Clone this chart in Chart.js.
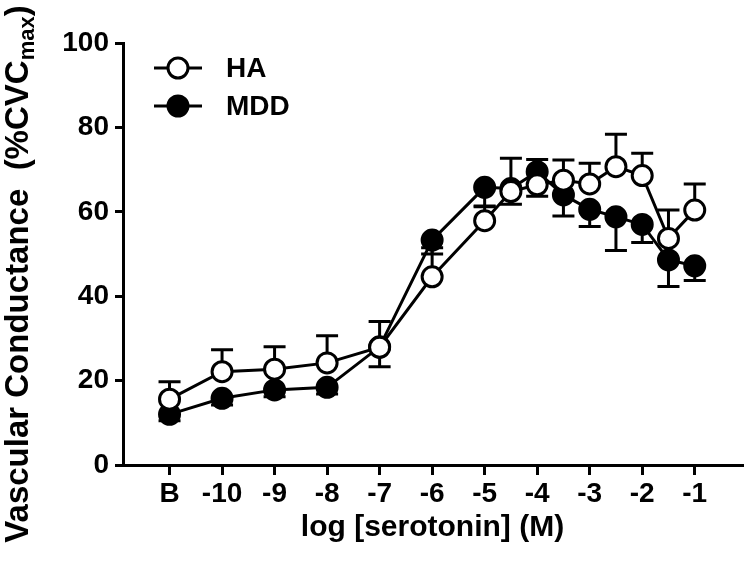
<!DOCTYPE html>
<html>
<head>
<meta charset="utf-8">
<script src="https://cdn.jsdelivr.net/npm/chart.js@4.4.0/dist/chart.umd.min.js"></script>
<style>
  html, body { margin: 0; padding: 0; background: #fff; }
  #wrap { width: 755px; height: 562px; position: relative; }
</style>
</head>
<body>
<div id="wrap"><canvas id="doseChart"></canvas></div>
<script>
// log concentration; -11 stands for the baseline "B"
const concentrations = [-11, -10, -9, -8, -7, -6, -5, -4.5, -4, -3.5, -3, -2.5, -2, -1.5, -1];

// HA (open circles) - mean and top of error bar
const haMean = [15.6, 22.1, 22.7, 24.2, 27.9, 44.6, 57.9, 64.8, 66.4, 67.5, 66.6, 70.7, 68.6, 53.7, 60.4];
const haErrTop = [19.7, 27.3, 28.0, 30.6, 34.0, 51.5, 61.2, 72.7, 72.4, 72.3, 71.5, 78.4, 73.9, 60.4, 66.6];

// MDD (filled circles) - mean and bottom of error bar
const mddMean = [12.0, 15.8, 17.8, 18.4, 28.0, 53.3, 65.8, 65.5, 69.5, 64.0, 60.6, 58.8, 57.0, 48.6, 47.2];
const mddErrBottom = [10.5, 14.2, 16.2, 16.8, 23.3, 50.0, 61.4, 61.8, 63.7, 59.0, 56.5, 50.8, 52.7, 42.3, 43.7];

const xTickValues = [-11, -10, -9, -8, -7, -6, -5, -4, -3, -2, -1];
const xTickLabels = ['B', '-10', '-9', '-8', '-7', '-6', '-5', '-4', '-3', '-2', '-1'];
const yTickValues = [0, 20, 40, 60, 80, 100];

const FONT = "'Liberation Sans', Arial, Helvetica, sans-serif";

function toPoints(ys) {
    return concentrations.map((x, i) => ({ x: x, y: ys[i] }));
}

// error bars: HA goes up, MDD goes down
const errorBars = {
    id: 'errorBars',
    beforeDatasetsDraw(chart) {
        const ctx = chart.ctx;
        const xs = chart.scales.x, ys = chart.scales.y;
        const cap = 11;
        ctx.save();
        ctx.strokeStyle = '#000';
        ctx.lineWidth = 3;
        const draw = (x, y0, y1) => {
            const px = xs.getPixelForValue(x);
            const p0 = ys.getPixelForValue(y0);
            const p1 = ys.getPixelForValue(y1);
            ctx.beginPath();
            ctx.moveTo(px, p0);
            ctx.lineTo(px, p1);
            ctx.moveTo(px - cap, p1);
            ctx.lineTo(px + cap, p1);
            ctx.stroke();
        };
        concentrations.forEach((c, i) => {
            draw(c, mddMean[i], mddErrBottom[i]);
            draw(c, haMean[i], haErrTop[i]);
        });
        ctx.restore();
    }
};

// legend with line through marker, and y title with subscript
const extras = {
    id: 'extras',
    afterDraw(chart) {
        const ctx = chart.ctx;
        ctx.save();
        // legend
        const rows = [
            { label: 'HA', y: 68, fill: '#fff' },
            { label: 'MDD', y: 106, fill: '#000' }
        ];
        rows.forEach(r => {
            ctx.strokeStyle = '#000';
            ctx.lineWidth = 3;
            ctx.beginPath();
            ctx.moveTo(154, r.y);
            ctx.lineTo(202, r.y);
            ctx.stroke();
            ctx.beginPath();
            ctx.arc(178, r.y, 10, 0, Math.PI * 2);
            ctx.fillStyle = r.fill;
            ctx.fill();
            ctx.stroke();
            ctx.fillStyle = '#000';
            ctx.font = 'bold 28px ' + FONT;
            ctx.textAlign = 'left';
            ctx.textBaseline = 'middle';
            ctx.fillText(r.label, 226, r.y + 1);
        });

        // y axis title
        const main = 'Vascular Conductance  (%CVC';
        const sub = 'max';
        const tail = ')';
        const bigFont = 'bold 33px ' + FONT;
        const smallFont = 'bold 22px ' + FONT;
        ctx.font = bigFont;
        const w1 = ctx.measureText(main).width;
        const w3 = ctx.measureText(tail).width;
        ctx.font = smallFont;
        const w2 = ctx.measureText(sub).width;
        const total = w1 + w2 + w3;
        ctx.translate(28, 274);
        ctx.rotate(-Math.PI / 2);
        ctx.textAlign = 'left';
        ctx.textBaseline = 'alphabetic';
        let x = -total / 2;
        ctx.font = bigFont;
        ctx.fillText(main, x, 0);
        x += w1;
        ctx.font = smallFont;
        ctx.fillText(sub, x, 6);
        x += w2;
        ctx.font = bigFont;
        ctx.fillText(tail, x, 0);
        ctx.restore();
    }
};

const chartData = {
    datasets: [
        {
            label: 'HA',
            data: toPoints(haMean),
            borderColor: '#000',
            backgroundColor: '#fff',
            borderWidth: 3,
            pointRadius: 10,
            pointBorderWidth: 3,
            pointBackgroundColor: '#fff',
            pointBorderColor: '#000',
            tension: 0
        },
        {
            label: 'MDD',
            data: toPoints(mddMean),
            borderColor: '#000',
            backgroundColor: '#000',
            borderWidth: 3,
            pointRadius: 10,
            pointBorderWidth: 3,
            pointBackgroundColor: '#000',
            pointBorderColor: '#000',
            tension: 0
        }
    ]
};

const config = {
    type: 'line',
    data: chartData,
    options: {
        responsive: true,
        maintainAspectRatio: false,
        animation: false,
        layout: { padding: { top: 43, right: 3, bottom: 0, left: 40 } },
        plugins: {
            legend: { display: false },
            tooltip: { enabled: false }
        },
        scales: {
            x: {
                type: 'linear',
                min: -11.886,
                max: -0.1,
                afterBuildTicks: s => { s.ticks = xTickValues.map(v => ({ value: v })); },
                afterFit: s => { s.height = 97; },
                ticks: {
                    autoSkip: false,
                    maxRotation: 0,
                    padding: 2,
                    color: '#000',
                    font: { size: 28, weight: 'bold', family: FONT },
                    callback: (v, i) => xTickLabels[i]
                },
                grid: { drawOnChartArea: false, tickLength: 10, lineWidth: 3, color: '#000' },
                border: { width: 3, color: '#000' },
                title: {
                    display: true,
                    text: 'log [serotonin] (M)',
                    color: '#000',
                    font: { size: 30, weight: 'bold', family: FONT },
                    padding: { top: 2, bottom: 16 }
                }
            },
            y: {
                min: 0,
                max: 100,
                afterBuildTicks: s => { s.ticks = yTickValues.map(v => ({ value: v })); },
                afterFit: s => { s.width = 83; },
                ticks: {
                    padding: 6,
                    color: '#000',
                    font: { size: 28, weight: 'bold', family: FONT }
                },
                grid: { drawOnChartArea: false, tickLength: 8, lineWidth: 3, color: '#000' },
                border: { width: 3, color: '#000' }
            }
        }
    },
    plugins: [errorBars, extras]
};

new Chart(document.getElementById('doseChart'), config);
</script>
</body>
</html>
